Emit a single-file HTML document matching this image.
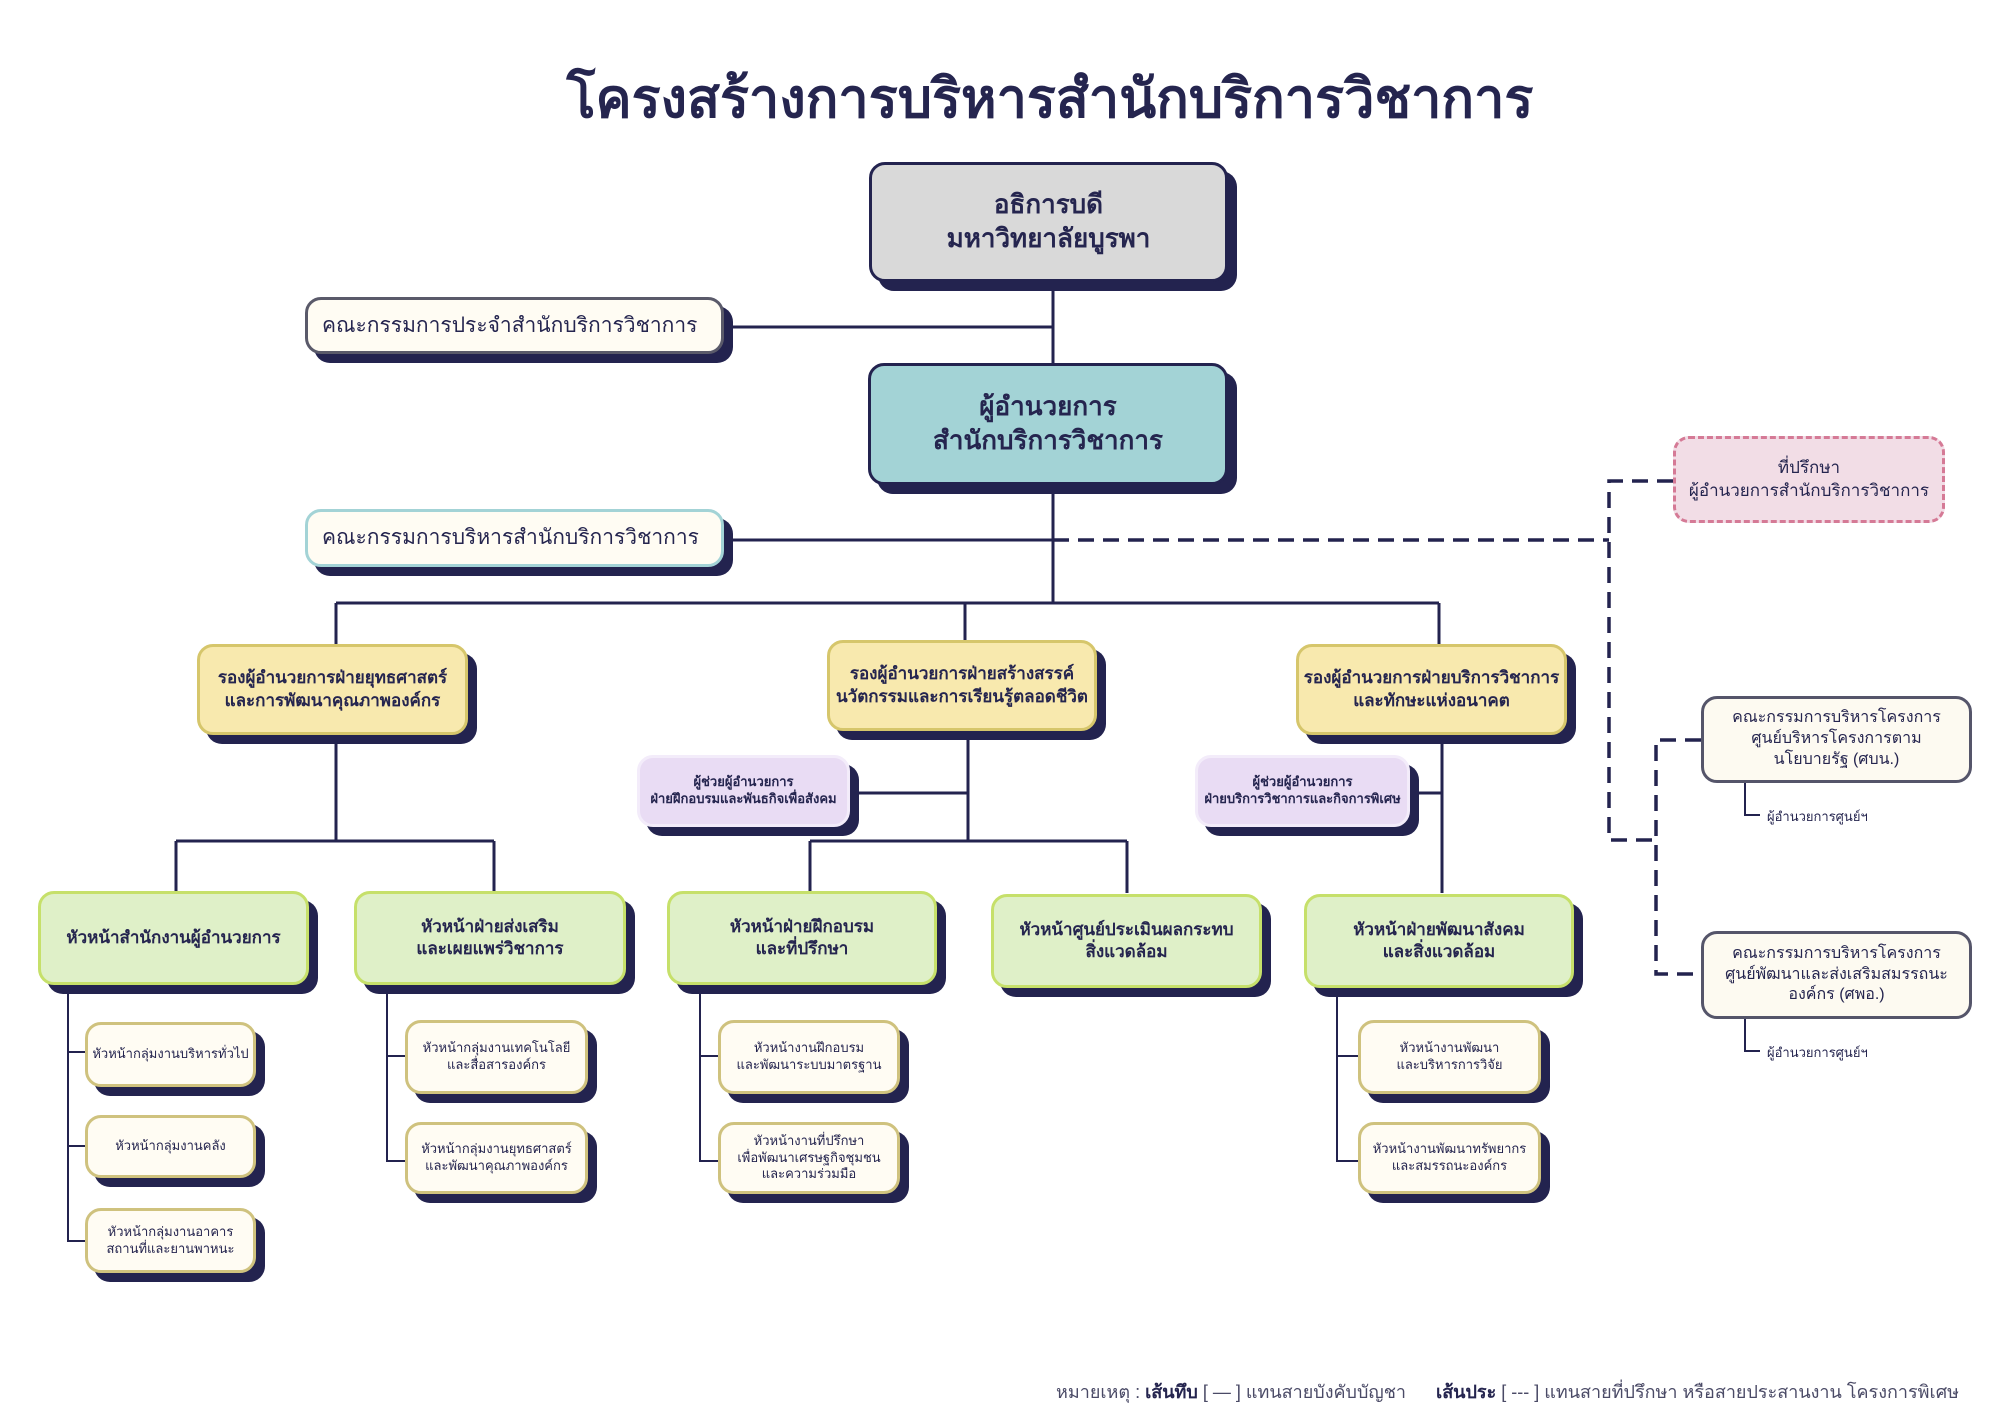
<!DOCTYPE html>
<html><head><meta charset="utf-8"><style>
*{margin:0;padding:0;box-sizing:border-box}
body{width:2000px;height:1414px;background:#fff;position:relative;overflow:hidden;font-family:"Liberation Sans","Noto Sans CJK SC",sans-serif;color:#25254f}
.b{position:absolute;display:flex;align-items:center;justify-content:center;text-align:center;border-radius:16px;border:3px solid #23234f;line-height:1.3}
.sh{box-shadow:9px 9px 0 #23234f}
.bold{font-weight:bold}
svg{position:absolute;left:0;top:0}
</style></head><body>
<svg width="2000" height="1414">
<g stroke="#23234f" stroke-width="3" fill="none">
<line x1="1053" y1="282" x2="1053" y2="363"/>
<line x1="724" y1="327" x2="1053" y2="327"/>
<line x1="1053" y1="485" x2="1053" y2="603"/>
<line x1="724" y1="540" x2="1053" y2="540"/>
<line x1="336" y1="603" x2="1439" y2="603"/>
<line x1="336" y1="603" x2="336" y2="644"/>
<line x1="965" y1="603" x2="965" y2="640"/>
<line x1="1439" y1="603" x2="1439" y2="644"/>
<line x1="336" y1="735" x2="336" y2="841"/>
<line x1="176" y1="841" x2="494" y2="841"/>
<line x1="176" y1="841" x2="176" y2="891"/>
<line x1="494" y1="841" x2="494" y2="891"/>
<line x1="968" y1="731" x2="968" y2="841"/>
<line x1="850" y1="793" x2="968" y2="793"/>
<line x1="810" y1="841" x2="1127" y2="841"/>
<line x1="810" y1="841" x2="810" y2="891"/>
<line x1="1127" y1="841" x2="1127" y2="893"/>
<line x1="1442" y1="735" x2="1442" y2="893"/>
<line x1="1410" y1="793" x2="1442" y2="793"/>
</g>
<g stroke="#23234f" stroke-width="2" fill="none">
<polyline points="68,985 68,1241 85,1241"/><line x1="68" y1="1052" x2="85" y2="1052"/><line x1="68" y1="1146" x2="85" y2="1146"/>
<polyline points="387,985 387,1161 405,1161"/><line x1="387" y1="1056" x2="405" y2="1056"/>
<polyline points="700,985 700,1161 718,1161"/><line x1="700" y1="1056" x2="718" y2="1056"/>
<polyline points="1337,985 1337,1161 1358,1161"/><line x1="1337" y1="1056" x2="1358" y2="1056"/>
<polyline points="1745,783 1745,815 1760,815"/>
<polyline points="1745,1019 1745,1051 1760,1051"/>
</g>
<g stroke="#23234f" stroke-width="3.5" fill="none" stroke-dasharray="16,9">
<line x1="1053" y1="540" x2="1609" y2="540"/>
<polyline points="1673,481 1609,481 1609,840 1656,840"/>
<polyline points="1701,740 1656,740 1656,974 1701,974"/>
</g>
</svg>

<div style="position:absolute;left:0;width:2000px;top:55px;text-align:center;font-size:54px;font-weight:bold;color:#25254f;padding-left:100px">โครงสร้างการบริหารสำนักบริการวิชาการ</div>

<div class="b sh bold" style="left:869px;top:162px;width:359px;height:120px;background:#d9d9d9;font-size:26px">อธิการบดี<br>มหาวิทยาลัยบูรพา</div>
<div class="b sh" style="left:305px;top:297px;width:419px;height:57px;background:#fffcf3;border-color:#5a5a6a;font-size:21px;justify-content:flex-start;padding-left:14px">คณะกรรมการประจำสำนักบริการวิชาการ</div>
<div class="b sh bold" style="left:868px;top:363px;width:360px;height:122px;background:#a3d3d6;font-size:26px">ผู้อำนวยการ<br>สำนักบริการวิชาการ</div>
<div class="b sh" style="left:305px;top:509px;width:419px;height:58px;background:#fffcf3;border-color:#a3d3d6;font-size:21px;justify-content:flex-start;padding-left:14px">คณะกรรมการบริหารสำนักบริการวิชาการ</div>
<div class="b" style="left:1673px;top:436px;width:272px;height:87px;background:#f2dde6;border:3px dashed #d57a96;font-size:17px">ที่ปรึกษา<br>ผู้อำนวยการสำนักบริการวิชาการ</div>

<div class="b sh bold" style="left:197px;top:644px;width:271px;height:91px;background:#f8e9ae;border-color:#d6c66b;font-size:17px">รองผู้อำนวยการฝ่ายยุทธศาสตร์<br>และการพัฒนาคุณภาพองค์กร</div>
<div class="b sh bold" style="left:827px;top:640px;width:270px;height:91px;background:#f8e9ae;border-color:#d6c66b;font-size:17px">รองผู้อำนวยการฝ่ายสร้างสรรค์<br>นวัตกรรมและการเรียนรู้ตลอดชีวิต</div>
<div class="b sh bold" style="left:1296px;top:644px;width:271px;height:91px;background:#f8e9ae;border-color:#d6c66b;font-size:17px">รองผู้อำนวยการฝ่ายบริการวิชาการ<br>และทักษะแห่งอนาคต</div>

<div class="b sh bold" style="left:637px;top:755px;width:213px;height:72px;background:#e9dcf4;border-color:#f3ecfa;font-size:13px">ผู้ช่วยผู้อำนวยการ<br>ฝ่ายฝึกอบรมและพันธกิจเพื่อสังคม</div>
<div class="b sh bold" style="left:1195px;top:755px;width:215px;height:72px;background:#e9dcf4;border-color:#f3ecfa;font-size:13px">ผู้ช่วยผู้อำนวยการ<br>ฝ่ายบริการวิชาการและกิจการพิเศษ</div>

<div class="b sh bold" style="left:38px;top:891px;width:271px;height:94px;background:#dff0c8;border-color:#c6e06a;font-size:17px">หัวหน้าสำนักงานผู้อำนวยการ</div>
<div class="b sh bold" style="left:354px;top:891px;width:272px;height:94px;background:#dff0c8;border-color:#c6e06a;font-size:17px">หัวหน้าฝ่ายส่งเสริม<br>และเผยแพร่วิชาการ</div>
<div class="b sh bold" style="left:667px;top:891px;width:270px;height:94px;background:#dff0c8;border-color:#c6e06a;font-size:17px">หัวหน้าฝ่ายฝึกอบรม<br>และที่ปรึกษา</div>
<div class="b sh bold" style="left:991px;top:894px;width:271px;height:94px;background:#dff0c8;border-color:#c6e06a;font-size:17px">หัวหน้าศูนย์ประเมินผลกระทบ<br>สิ่งแวดล้อม</div>
<div class="b sh bold" style="left:1304px;top:894px;width:270px;height:94px;background:#dff0c8;border-color:#c6e06a;font-size:17px">หัวหน้าฝ่ายพัฒนาสังคม<br>และสิ่งแวดล้อม</div>

<div class="b sh" style="left:85px;top:1022px;width:171px;height:65px;background:#fffcf3;border-color:#cfc27e;font-size:13px">หัวหน้ากลุ่มงานบริหารทั่วไป</div>
<div class="b sh" style="left:85px;top:1115px;width:171px;height:63px;background:#fffcf3;border-color:#cfc27e;font-size:13px">หัวหน้ากลุ่มงานคลัง</div>
<div class="b sh" style="left:85px;top:1208px;width:171px;height:65px;background:#fffcf3;border-color:#cfc27e;font-size:13px">หัวหน้ากลุ่มงานอาคาร<br>สถานที่และยานพาหนะ</div>
<div class="b sh" style="left:405px;top:1020px;width:183px;height:74px;background:#fffcf3;border-color:#cfc27e;font-size:13px">หัวหน้ากลุ่มงานเทคโนโลยี<br>และสื่อสารองค์กร</div>
<div class="b sh" style="left:405px;top:1122px;width:183px;height:72px;background:#fffcf3;border-color:#cfc27e;font-size:13px">หัวหน้ากลุ่มงานยุทธศาสตร์<br>และพัฒนาคุณภาพองค์กร</div>
<div class="b sh" style="left:718px;top:1020px;width:182px;height:74px;background:#fffcf3;border-color:#cfc27e;font-size:13px">หัวหน้างานฝึกอบรม<br>และพัฒนาระบบมาตรฐาน</div>
<div class="b sh" style="left:718px;top:1122px;width:182px;height:72px;background:#fffcf3;border-color:#cfc27e;font-size:13px">หัวหน้างานที่ปรึกษา<br>เพื่อพัฒนาเศรษฐกิจชุมชน<br>และความร่วมมือ</div>
<div class="b sh" style="left:1358px;top:1020px;width:183px;height:74px;background:#fffcf3;border-color:#cfc27e;font-size:13px">หัวหน้างานพัฒนา<br>และบริหารการวิจัย</div>
<div class="b sh" style="left:1358px;top:1122px;width:183px;height:72px;background:#fffcf3;border-color:#cfc27e;font-size:13px">หัวหน้างานพัฒนาทรัพยากร<br>และสมรรถนะองค์กร</div>

<div class="b" style="left:1701px;top:696px;width:271px;height:87px;background:#fdfaf1;border-color:#55556a;font-size:16px">คณะกรรมการบริหารโครงการ<br>ศูนย์บริหารโครงการตาม<br>นโยบายรัฐ (ศบน.)</div>
<div class="b" style="left:1701px;top:931px;width:271px;height:88px;background:#fdfaf1;border-color:#55556a;font-size:16px">คณะกรรมการบริหารโครงการ<br>ศูนย์พัฒนาและส่งเสริมสมรรถนะ<br>องค์กร (ศพอ.)</div>
<div style="position:absolute;left:1767px;top:806px;font-size:13px">ผู้อำนวยการศูนย์ฯ</div>
<div style="position:absolute;left:1767px;top:1042px;font-size:13px">ผู้อำนวยการศูนย์ฯ</div>

<div style="position:absolute;left:1056px;top:1377px;font-size:18px;white-space:nowrap;color:#4a4a66">หมายเหตุ : <b style="color:#25254f">เส้นทึบ</b> [ — ] แทนสายบังคับบัญชา &nbsp;&nbsp;&nbsp;&nbsp; <b style="color:#25254f">เส้นประ</b> [ --- ] แทนสายที่ปรึกษา หรือสายประสานงาน โครงการพิเศษ</div>
</body></html>
